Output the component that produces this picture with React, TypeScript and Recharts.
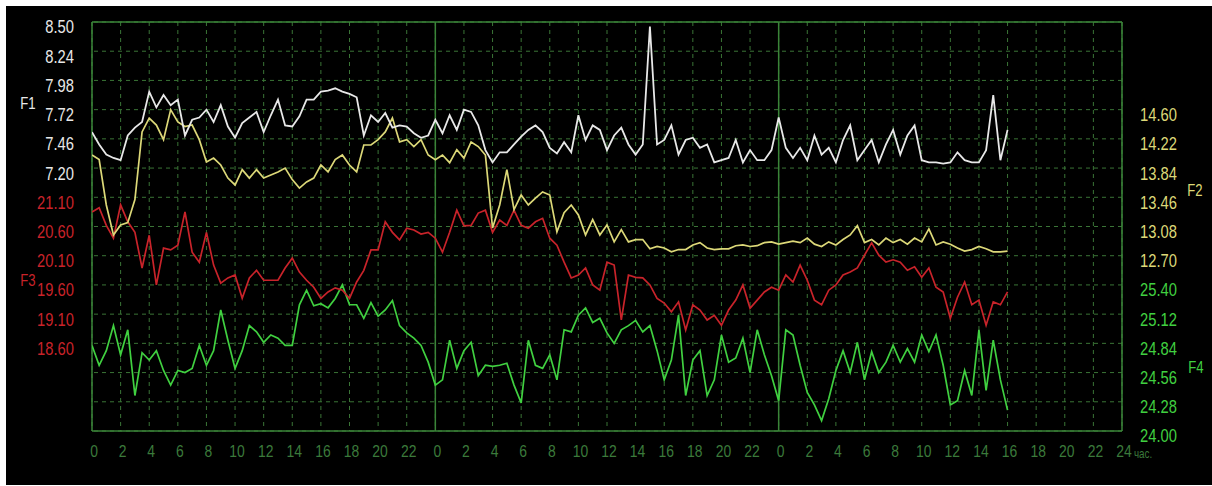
import { LineChart, Line, XAxis, YAxis, CartesianGrid, ReferenceLine, Label } from 'recharts'

// samples every half hour, 0..64 h
const STEP_HOURS = 0.5

const F1_VALUES = [
  7.52, 7.41, 7.32, 7.29, 7.27, 7.49, 7.56, 7.61, 7.88, 7.74,
  7.85, 7.76, 7.81, 7.49, 7.63, 7.65, 7.72, 7.61, 7.76, 7.57,
  7.47, 7.60, 7.65, 7.70, 7.52, 7.67, 7.81, 7.58, 7.57, 7.66,
  7.81, 7.81, 7.88, 7.89, 7.91, 7.88, 7.86, 7.83, 7.49, 7.67,
  7.61, 7.69, 7.56, 7.58, 7.57, 7.51, 7.47, 7.49, 7.63, 7.51,
  7.67, 7.54, 7.72, 7.70, 7.58, 7.36, 7.25, 7.34, 7.34, 7.41,
  7.48, 7.54, 7.58, 7.52, 7.38, 7.33, 7.43, 7.34, 7.67, 7.45,
  7.58, 7.54, 7.36, 7.49, 7.56, 7.41, 7.32, 7.41, 8.46, 7.41,
  7.45, 7.58, 7.32, 7.45, 7.47, 7.38, 7.41, 7.25, 7.27, 7.29,
  7.45, 7.25, 7.36, 7.27, 7.27, 7.36, 7.65, 7.38, 7.29, 7.38,
  7.27, 7.49, 7.32, 7.38, 7.25, 7.45, 7.58, 7.27, 7.36, 7.45,
  7.25, 7.41, 7.54, 7.32, 7.49, 7.58, 7.27, 7.25, 7.25, 7.24,
  7.25, 7.34, 7.27, 7.25, 7.25, 7.36, 7.85, 7.27, 7.54,
]

const F2_VALUES = [
  14.01, 13.95, 13.36, 12.97, 13.10, 13.13, 13.43, 14.31, 14.49, 14.40,
  14.21, 14.60, 14.44, 14.38, 14.40, 14.21, 13.92, 13.97, 13.88, 13.71,
  13.62, 13.82, 13.71, 13.82, 13.71, 13.75, 13.79, 13.84, 13.69, 13.58,
  13.66, 13.71, 13.88, 13.79, 13.95, 14.01, 13.88, 13.79, 14.14, 14.14,
  14.21, 14.31, 14.49, 14.18, 14.21, 14.12, 14.21, 14.01, 13.95, 14.01,
  13.91, 14.08, 13.97, 14.18, 14.12, 14.01, 13.06, 13.36, 13.82, 13.30,
  13.49, 13.36, 13.45, 13.53, 13.49, 13.01, 13.26, 13.36, 13.23, 12.97,
  13.17, 12.97, 13.10, 12.88, 13.04, 12.88, 12.91, 12.91, 12.79, 12.82,
  12.80, 12.75, 12.78, 12.78, 12.84, 12.87, 12.80, 12.78, 12.79, 12.79,
  12.83, 12.84, 12.82, 12.83, 12.87, 12.88, 12.85, 12.87, 12.89, 12.87,
  12.93, 12.85, 12.82, 12.88, 12.84, 12.91, 12.97, 13.09, 12.87, 12.91,
  12.84, 12.93, 12.87, 12.91, 12.85, 12.93, 12.88, 13.05, 12.84, 12.88,
  12.85, 12.80, 12.76, 12.78, 12.82, 12.79, 12.75, 12.75, 12.76,
]

const F3_VALUES = [
  20.85, 20.92, 20.62, 20.40, 20.97, 20.68, 20.50, 19.89, 20.45, 19.60,
  20.23, 20.20, 20.28, 20.85, 20.16, 19.99, 20.50, 19.94, 19.63, 19.72,
  19.77, 19.37, 19.72, 19.85, 19.68, 19.68, 19.68, 19.89, 20.06, 19.82,
  19.68, 19.56, 19.37, 19.48, 19.55, 19.51, 19.37, 19.65, 19.85, 20.20,
  20.20, 20.68, 20.50, 20.37, 20.57, 20.54, 20.47, 20.50, 20.40, 20.16,
  20.50, 20.88, 20.61, 20.62, 20.83, 20.88, 20.50, 20.71, 20.62, 20.88,
  20.62, 20.57, 20.68, 20.74, 20.40, 20.28, 19.99, 19.72, 19.77, 19.89,
  19.60, 19.51, 19.99, 19.94, 19.00, 19.77, 19.73, 19.72, 19.60, 19.37,
  19.29, 19.14, 19.31, 18.83, 19.26, 19.17, 19.00, 19.08, 18.91, 19.17,
  19.34, 19.60, 19.20, 19.34, 19.48, 19.56, 19.51, 19.77, 19.65, 19.94,
  19.68, 19.34, 19.26, 19.51, 19.60, 19.77, 19.82, 19.89, 20.11, 20.32,
  20.11, 19.99, 20.03, 19.99, 19.85, 19.91, 19.73, 19.89, 19.56, 19.48,
  19.03, 19.39, 19.65, 19.26, 19.34, 18.91, 19.31, 19.26, 19.48,
]

const F4_VALUES = [
  24.82, 24.63, 24.77, 25.01, 24.73, 24.97, 24.34, 24.75, 24.68, 24.77,
  24.58, 24.44, 24.58, 24.56, 24.60, 24.82, 24.63, 24.77, 25.16, 24.87,
  24.60, 24.77, 25.01, 24.95, 24.85, 24.92, 24.89, 24.82, 24.82, 25.21,
  25.35, 25.20, 25.22, 25.18, 25.27, 25.40, 25.21, 25.21, 25.08, 25.23,
  25.10, 25.16, 25.25, 25.01, 24.94, 24.89, 24.82, 24.66, 24.44, 24.49,
  24.87, 24.60, 24.77, 24.85, 24.53, 24.63, 24.62, 24.63, 24.65, 24.44,
  24.27, 24.87, 24.63, 24.60, 24.73, 24.49, 24.97, 24.95, 25.11, 25.18,
  25.04, 25.08, 24.94, 24.84, 24.97, 25.01, 25.06, 24.95, 25.01, 24.77,
  24.49, 24.68, 25.11, 24.34, 24.68, 24.77, 24.34, 24.49, 24.92, 24.66,
  24.70, 24.89, 24.56, 24.97, 24.73, 24.53, 24.29, 24.97, 24.92, 24.63,
  24.37, 24.25, 24.10, 24.31, 24.58, 24.77, 24.56, 24.85, 24.49, 24.76,
  24.56, 24.66, 24.82, 24.66, 24.79, 24.66, 24.92, 24.76, 24.92, 24.63,
  24.25, 24.29, 24.58, 24.34, 24.97, 24.39, 24.87, 24.49, 24.20,
]

const X_TICKS = [
  0, 2, 4, 6, 8, 10, 12, 14, 16, 18, 20, 22,
  24, 26, 28, 30, 32, 34, 36, 38, 40, 42, 44, 46,
  48, 50, 52, 54, 56, 58, 60, 62, 64, 66, 68, 70, 72,
]
const X_LABELS = [
  '0', '2', '4', '6', '8', '10', '12', '14', '16', '18', '20', '22',
  '0', '2', '4', '6', '8', '10', '12', '14', '16', '18', '20', '22',
  '0', '2', '4', '6', '8', '10', '12', '14', '16', '18', '20', '22', '24',
]
const X_UNIT = 'час.'
const DAY_BOUNDS = [0, 24, 48, 72]

const F1_TICKS = [8.5, 8.24, 7.98, 7.72, 7.46, 7.2]
const F3_TICKS = [21.1, 20.6, 20.1, 19.6, 19.1, 18.6]
const F2_TICKS = [14.6, 14.22, 13.84, 13.46, 13.08, 12.7]
const F4_TICKS = [25.4, 25.12, 24.84, 24.56, 24.28, 24.0]

const F1_DOMAIN = [4.86, 8.5]
const F3_DOMAIN = [17.1, 24.1]
const F2_DOMAIN = [10.42, 15.74]
const F4_DOMAIN = [24.0, 27.92]

// shared row grid: 15 lines, 0 = bottom, 14 = top
const GRID_ROWS = [0, 1, 2, 3, 4, 5, 6, 7, 8, 9, 10, 11, 12, 13, 14]

const C_WHITE = '#e8e8e8'
const C_YELLOW = '#dcd878'
const C_RED = '#c8232a'
const C_GREEN = '#40d040'
const C_GRID = '#3a7436'
const C_FRAME = '#3a8438'
const C_XTEXT = '#3b7a3b'

const FONT = '"Liberation Sans", Arial, sans-serif'
const SQUEEZE = 0.82

const chartData = F1_VALUES.map((v, i) => ({
  t: i * STEP_HOURS,
  f1: v,
  f2: F2_VALUES[i],
  f3: F3_VALUES[i],
  f4: F4_VALUES[i],
}))

// narrow-looking text: draw at origin, squeeze horizontally
function NarrowText({ x, y, anchor, color, size, dy, children }: any) {
  return (
    <text
      transform={`translate(${x},${y}) scale(${SQUEEZE},1)`}
      x={0}
      y={0}
      dy={dy}
      textAnchor={anchor}
      fill={color}
      fontSize={size}
      fontFamily={FONT}
    >
      {children}
    </text>
  )
}

function makeYTick(color: string) {
  return (props: any) => {
    const { x, y, payload, textAnchor } = props
    return (
      <NarrowText x={x} y={y + 5} dy="0.36em" anchor={textAnchor} color={color} size={18}>
        {Number(payload.value).toFixed(2)}
      </NarrowText>
    )
  }
}

function XTick(props: any) {
  const { x, y, payload } = props
  const idx = X_TICKS.indexOf(payload.value)
  const last = idx === X_TICKS.length - 1
  return (
    <g>
      <NarrowText x={x + 2} y={y} dy="0.71em" anchor="middle" color={C_XTEXT} size={17}>
        {X_LABELS[idx]}
      </NarrowText>
      {last && (
        <NarrowText x={x + 12} y={y + 4} dy="0.71em" anchor="start" color={C_XTEXT} size={12}>
          {X_UNIT}
        </NarrowText>
      )}
    </g>
  )
}

function axisName(text: string, color: string, cx: number, fy: number) {
  return (props: any) => {
    const vb = props.viewBox || { y: 0, height: 0 }
    return (
      <NarrowText x={cx} y={vb.y + vb.height * fy} dy="0.36em" anchor="middle" color={color} size={16}>
        {text}
      </NarrowText>
    )
  }
}

export default function App() {
  return (
    <div style={{ position: 'absolute', left: 6, top: 6, width: 1206, height: 479, background: '#000' }}>
      <LineChart width={1206} height={479} data={chartData} margin={{ top: 16, right: 0, bottom: 0, left: 0 }}>
        <CartesianGrid horizontal={false} stroke={C_GRID} strokeDasharray="4 4" />
        <XAxis
          dataKey="t"
          type="number"
          domain={[0, 72]}
          allowDataOverflow
          ticks={X_TICKS}
          interval={0}
          tick={XTick}
          tickSize={0}
          tickMargin={14}
          tickLine={false}
          axisLine={false}
          height={54}
        />
        <YAxis
          yAxisId="f1"
          type="number"
          orientation="left"
          domain={F1_DOMAIN}
          ticks={F1_TICKS}
          interval={0}
          allowDataOverflow
          width={43}
          tick={makeYTick(C_WHITE)}
          tickSize={0}
          tickMargin={18}
          tickLine={false}
          axisLine={false}
        >
          <Label content={axisName('F1', C_WHITE, 22, 0.198)} />
        </YAxis>
        <YAxis
          yAxisId="f3"
          type="number"
          orientation="left"
          domain={F3_DOMAIN}
          ticks={F3_TICKS}
          interval={0}
          allowDataOverflow
          width={43}
          tick={makeYTick(C_RED)}
          tickSize={0}
          tickMargin={-25}
          tickLine={false}
          axisLine={false}
        >
          <Label content={axisName('F3', C_RED, 22, 0.631)} />
        </YAxis>
        <YAxis
          yAxisId="f2"
          type="number"
          orientation="right"
          domain={F2_DOMAIN}
          ticks={F2_TICKS}
          interval={0}
          allowDataOverflow
          width={45}
          tick={makeYTick(C_YELLOW)}
          tickSize={0}
          tickMargin={18}
          tickLine={false}
          axisLine={false}
        >
          <Label content={axisName('F2', C_YELLOW, 1189, 0.411)} />
        </YAxis>
        <YAxis
          yAxisId="f4"
          type="number"
          orientation="right"
          domain={F4_DOMAIN}
          ticks={F4_TICKS}
          interval={0}
          allowDataOverflow
          width={45}
          tick={makeYTick(C_GREEN)}
          tickSize={0}
          tickMargin={-27}
          tickLine={false}
          axisLine={false}
        >
          <Label content={axisName('F4', C_GREEN, 1190, 0.843)} />
        </YAxis>
        <YAxis
          yAxisId="rows"
          type="number"
          orientation="right"
          domain={[0, 14]}
          allowDataOverflow
          ticks={GRID_ROWS}
          interval={0}
          width={0}
          tick={false}
          tickLine={false}
          axisLine={false}
        />

        {GRID_ROWS.map(r => (
          <ReferenceLine key={`row-${r}`} y={r} yAxisId="rows" stroke={C_GRID} strokeDasharray="4 4" />
        ))}
        {DAY_BOUNDS.map(h => (
          <ReferenceLine key={`day-${h}`} x={h} yAxisId="rows" stroke={C_FRAME} strokeWidth={1.5} />
        ))}
        <ReferenceLine y={0} yAxisId="rows" stroke={C_FRAME} strokeWidth={1.5} />
        <ReferenceLine y={14} yAxisId="rows" stroke={C_FRAME} strokeWidth={1.5} />

        <Line yAxisId="f4" dataKey="f4" stroke={C_GREEN} strokeWidth={1.7} dot={false} isAnimationActive={false} />
        <Line yAxisId="f3" dataKey="f3" stroke={C_RED} strokeWidth={1.7} dot={false} isAnimationActive={false} />
        <Line yAxisId="f2" dataKey="f2" stroke={C_YELLOW} strokeWidth={1.7} dot={false} isAnimationActive={false} />
        <Line yAxisId="f1" dataKey="f1" stroke={C_WHITE} strokeWidth={1.8} dot={false} isAnimationActive={false} />
      </LineChart>
    </div>
  )
}
